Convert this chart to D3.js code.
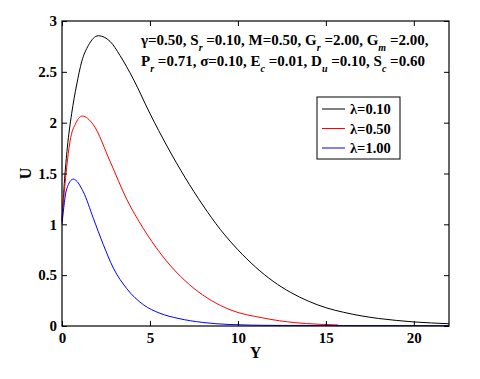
<!DOCTYPE html>
<html>
<head>
<meta charset="utf-8">
<script src="https://cdn.jsdelivr.net/npm/d3@7"></script>
<style>
  body { margin: 0; background: #fff; }
  text { font-family: "Liberation Serif", "Times New Roman", serif; font-weight: bold; }
</style>
</head>
<body>
<div id="chart"></div>
<script>
// values
var yBlack = [0, 0.15, 0.3, 0.55, 0.83, 1.12, 1.5, 2.06, 2.73, 3.3, 4.05, 5, 6, 7, 8, 9, 10, 11, 12, 13, 14, 15, 16, 17, 18, 19, 20, 21, 22];
var uBlack = [1.03, 1.45, 1.75, 2.09, 2.37, 2.6, 2.76, 2.855, 2.8, 2.66, 2.43, 2.09, 1.76, 1.46, 1.19, 0.95, 0.75, 0.58, 0.44, 0.33, 0.245, 0.18, 0.135, 0.1, 0.074, 0.055, 0.04, 0.03, 0.022];

var yRed = [0, 0.08, 0.45, 0.8, 1.15, 1.78, 2.73, 3.67, 4.62, 5.57, 6.5, 7.5, 8.5, 9.55, 11.4, 13.3, 14.5, 15.7];
var uRed = [1.05, 1.22, 1.81, 2.0, 2.065, 1.98, 1.62, 1.25, 0.96, 0.72, 0.53, 0.37, 0.25, 0.16, 0.08, 0.032, 0.018, 0.01];

var yBlue = [0, 0.27, 0.64, 1.21, 1.78, 2.35, 2.92, 3.67, 4.62, 5.57, 6.6, 8, 9.5, 12, 16, 22];
var uBlue = [1.0, 1.35, 1.445, 1.32, 1.06, 0.8, 0.57, 0.37, 0.21, 0.125, 0.075, 0.035, 0.015, 0.006, 0.004, 0.003];

var seriesNames = ["λ=0.10", "λ=0.50", "λ=1.00"];
var seriesColours = ["#000000", "#ff0000", "#0000ff"];

var xTicks = [0, 5, 10, 15, 20];
var yTicks = [0, 0.5, 1, 1.5, 2, 2.5, 3];

var width = 480, height = 379;
var margin = {left: 62, right: 31, top: 21, bottom: 53};

var svg = d3.select("#chart")
  .append("svg")
  .attr("width", width)
  .attr("height", height);

var x = d3.scaleLinear().domain([0, 22]).range([margin.left, width - margin.right]);
var y = d3.scaleLinear().domain([0, 3]).range([height - margin.bottom, margin.top]);

var series = [
  {name: seriesNames[0], colour: seriesColours[0], xs: yBlack, us: uBlack},
  {name: seriesNames[1], colour: seriesColours[1], xs: yRed, us: uRed},
  {name: seriesNames[2], colour: seriesColours[2], xs: yBlue, us: uBlue}
];

var line = d3.line()
  .x(function(d){ return x(d[0]); })
  .y(function(d){ return y(d[1]); })
  .curve(d3.curveMonotoneX);

svg.selectAll("path.curve")
  .data(series)
  .enter()
  .append("path")
  .attr("class", "curve")
  .attr("fill", "none")
  .attr("stroke", function(d){ return d.colour; })
  .attr("stroke-width", 1)
  .attr("d", function(d){
    return line(d.xs.map(function(v, i){ return [v, d.us[i]]; }));
  });

// axes, MATLAB style: ticks inside, on all four sides
var tick = 5;
var fontSize = 15;

var axBottom = svg.append("g")
  .attr("transform", "translate(0," + y(0) + ")")
  .call(d3.axisBottom(x).tickValues(xTicks).tickSizeInner(-tick).tickSizeOuter(0).tickPadding(6).tickFormat(d3.format("d")));
var axLeft = svg.append("g")
  .attr("transform", "translate(" + x(0) + ",0)")
  .call(d3.axisLeft(y).tickValues(yTicks).tickSizeInner(-tick).tickSizeOuter(0).tickPadding(5).tickFormat(function(d){ return d; }));
var axTop = svg.append("g")
  .attr("transform", "translate(0," + y(3) + ")")
  .call(d3.axisTop(x).tickValues(xTicks).tickSizeInner(-tick).tickSizeOuter(0).tickFormat(""));
var axRight = svg.append("g")
  .attr("transform", "translate(" + x(22) + ",0)")
  .call(d3.axisRight(y).tickValues(yTicks).tickSizeInner(-tick).tickSizeOuter(0).tickFormat(""));

[axBottom, axLeft, axTop, axRight].forEach(function(g){
  g.select(".domain").remove();
  g.selectAll("line").attr("stroke", "#000");
  g.selectAll("text")
    .attr("fill", "#000")
    .style("font-size", fontSize + "px")
    .style("font-family", "'Liberation Serif', 'Times New Roman', serif")
    .style("font-weight", "bold");
});

svg.append("rect")
  .attr("x", x(0))
  .attr("y", y(3))
  .attr("width", x(22) - x(0))
  .attr("height", y(0) - y(3))
  .attr("fill", "none")
  .attr("stroke", "#000")
  .attr("stroke-width", 1.2);

// axis titles
svg.append("text")
  .attr("x", (x(0) + x(22)) / 2)
  .attr("y", 358)
  .attr("text-anchor", "middle")
  .style("font-size", "16px")
  .text("Y");

svg.append("text")
  .attr("transform", "translate(31," + y(1.5) + ") rotate(-90)")
  .attr("text-anchor", "middle")
  .style("font-size", "16px")
  .text("U");

// parameter annotation with subscripts
function addLine(parts, px, py){
  var t = svg.append("text")
    .attr("x", px)
    .attr("y", py)
    .style("font-size", "15px");
  var shift = 0;
  parts.forEach(function(p){
    var sub = typeof p !== "string";
    var s = t.append("tspan").text(sub ? p.sub : p);
    var target = sub ? 6 : 0;
    if(target != shift){ s.attr("dy", target - shift); shift = target; }
    if(sub){
      s.style("font-size", "10px").style("font-style", "italic");
    }
  });
}

addLine(["γ=0.50, S", {sub: "r"}, " =0.10, M=0.50, G", {sub: "r"}, " =2.00, G", {sub: "m"}, " =2.00,"], 141, 45);
addLine(["P", {sub: "r"}, " =0.71, σ=0.10, E", {sub: "c"}, " =0.01, D", {sub: "u"}, " =0.10, S", {sub: "c"}, " =0.60"], 141, 66);

// legend
var legend = svg.append("g").attr("transform", "translate(317,97)");
legend.append("rect")
  .attr("width", 83)
  .attr("height", 62)
  .attr("fill", "#fff")
  .attr("stroke", "#000")
  .attr("stroke-width", 1);

var items = legend.selectAll("g.item")
  .data(series)
  .enter()
  .append("g")
  .attr("class", "item")
  .attr("transform", function(d, i){ return "translate(0," + (12 + i * 19.5) + ")"; });

items.append("line")
  .attr("x1", 5)
  .attr("x2", 28)
  .attr("stroke", function(d){ return d.colour; })
  .attr("stroke-width", 1);

items.append("text")
  .attr("x", 33)
  .attr("y", 5)
  .style("font-size", "14.5px")
  .text(function(d){ return d.name; });
</script>
</body>
</html>
